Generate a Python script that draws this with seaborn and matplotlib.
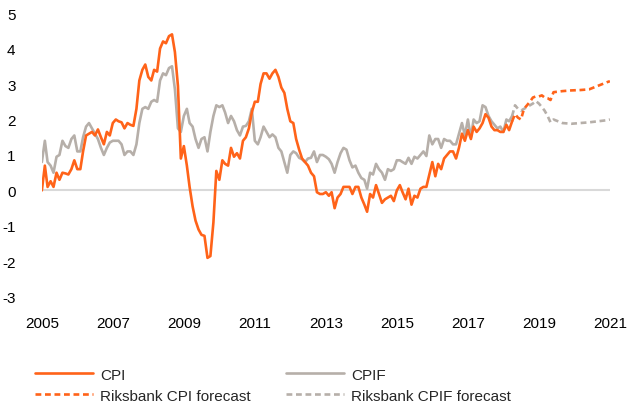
import pandas as pd
import numpy as np
import matplotlib
matplotlib.use("Agg")
import matplotlib.pyplot as plt
import seaborn as sns

# monthly annual % change, Jan 2005 - Apr 2018
cpi = [0.0, 0.7, 0.1, 0.26, 0.1, 0.5, 0.3, 0.5, 0.48, 0.45, 0.6, 0.85,
       0.6, 0.6, 1.1, 1.55, 1.6, 1.65, 1.55, 1.72, 1.5, 1.3, 1.65, 1.55,
       1.9, 2.0, 1.95, 1.92, 1.75, 1.9, 1.85, 1.82, 2.3, 3.1, 3.4, 3.55,
       3.2, 3.1, 3.4, 3.35, 4.0, 4.2, 4.15, 4.35, 4.4, 3.9, 2.95, 0.9,
       1.25, 0.7, 0.1, -0.45, -0.85, -1.1, -1.25, -1.28, -1.9, -1.85, -0.9, 0.55,
       0.3, 0.85, 0.75, 0.7, 1.2, 0.95, 1.05, 0.9, 1.4, 1.5, 1.75, 2.2,
       2.5, 2.5, 3.0, 3.3, 3.3, 3.15, 3.3, 3.4, 3.2, 2.9, 2.75, 2.3,
       1.95, 1.9, 1.45, 1.15, 0.9, 0.8, 0.7, 0.5, 0.4, -0.05, -0.1, -0.1,
       -0.05, -0.15, -0.05, -0.5, -0.2, -0.1, 0.1, 0.1, 0.1, -0.1, 0.1, 0.1,
       -0.2, -0.4, -0.6, -0.1, -0.2, 0.15, -0.1, -0.35, -0.25, -0.2, -0.15, -0.3,
       0.0, 0.15, -0.05, -0.25, 0.05, -0.4, -0.15, -0.2, 0.05, 0.1, 0.1, 0.45,
       0.8, 0.4, 0.75, 0.6, 0.9, 1.0, 1.1, 1.1, 0.9, 1.2, 1.6, 1.4,
       1.7, 1.45, 1.8, 1.65, 1.75, 1.9, 2.15, 2.05, 1.8, 1.7, 1.7, 1.65,
       1.65, 1.85, 1.7, 1.95]

cpif = [0.8, 1.4, 0.8, 0.7, 0.5, 0.95, 1.0, 1.4, 1.25, 1.2, 1.45, 1.55,
        1.1, 1.1, 1.5, 1.8, 1.9, 1.75, 1.6, 1.45, 1.2, 1.0, 1.2, 1.35,
        1.4, 1.4, 1.4, 1.3, 1.0, 1.1, 1.1, 1.0, 1.3, 1.9, 2.3, 2.35,
        2.3, 2.5, 2.55, 2.5, 3.1, 3.3, 3.25, 3.45, 3.5, 2.85, 1.75, 1.65,
        2.1, 2.3, 1.9, 1.8, 1.45, 1.2, 1.45, 1.5, 1.1, 1.65, 2.1, 2.4,
        2.35, 2.4, 2.2, 1.9, 2.1, 1.95, 1.7, 1.55, 1.8, 1.82, 1.95, 2.3,
        1.4, 1.3, 1.5, 1.8, 1.65, 1.5, 1.58, 1.5, 1.2, 1.1, 0.8, 0.5,
        1.0, 1.1, 1.05, 0.92, 0.88, 0.8, 0.9, 0.92, 1.1, 0.8, 1.0, 1.0,
        0.95, 0.88, 0.75, 0.5, 0.8, 1.05, 1.2, 1.15, 0.85, 0.65, 0.7, 0.5,
        0.35, 0.3, 0.05, 0.5, 0.45, 0.75, 0.6, 0.5, 0.3, 0.6, 0.55, 0.6,
        0.85, 0.85, 0.8, 0.75, 0.92, 0.75, 0.95, 0.9, 1.0, 1.1, 0.97, 1.55,
        1.3, 1.45, 1.45, 1.2, 1.45, 1.4, 1.4, 1.3, 1.3, 1.6, 1.9, 1.55,
        2.0, 1.5, 2.0, 1.9, 1.95, 2.4, 2.35, 2.1, 1.95, 1.85, 1.75, 1.8,
        1.65, 2.0, 1.95, 2.1]

# Riksbank forecasts
fc_dates = ["2018-04", "2018-05", "2018-06", "2018-07", "2018-08", "2018-09",
            "2018-10", "2018-11", "2018-12", "2019-01", "2019-02", "2019-03",
            "2019-04", "2019-05", "2019-06", "2019-09", "2019-12", "2020-03",
            "2020-06", "2020-09", "2020-12", "2021-01"]
cpi_fc = [1.95, 2.15, 2.05, 2.0, 2.3, 2.4, 2.5, 2.62, 2.65, 2.65, 2.68, 2.62,
          2.6, 2.55, 2.77, 2.8, 2.82, 2.83, 2.85, 2.95, 3.05, 3.08]
cpif_fc = [2.1, 2.4, 2.3, 2.25, 2.3, 2.35, 2.4, 2.45, 2.52, 2.45, 2.35, 2.25,
           2.1, 1.92, 2.0, 1.9, 1.88, 1.9, 1.92, 1.95, 1.98, 2.0]

orange = "#ff6319"
grey = "#b6afa9"

hist = pd.DataFrame({"date": pd.date_range("2005-01-01", periods=len(cpi), freq="MS"),
                     "CPI": cpi, "CPIF": cpif})
fc = pd.DataFrame({"date": pd.to_datetime(fc_dates), "cpi": cpi_fc, "cpif": cpif_fc})

sns.set_style("white")
plt.rcParams["font.family"] = ["Liberation Sans", "DejaVu Sans"]
plt.rcParams["axes.unicode_minus"] = False

fig = plt.figure(figsize=(6.34, 4.02), dpi=100)
ax = fig.add_axes([0.066, 0.259, 0.896, 0.706])

ax.axhline(0, color="#d9d9d9", lw=1.5, zorder=1)
sns.lineplot(data=hist, x="date", y="CPIF", color=grey, lw=1.9, ax=ax, label="CPIF")
sns.lineplot(data=hist, x="date", y="CPI", color=orange, lw=1.9, ax=ax, label="CPI")
sns.lineplot(data=fc, x="date", y="cpif", color=grey, lw=1.9, ax=ax,
             label="Riksbank CPIF forecast", linestyle=(0, (2.2, 1.4)))
sns.lineplot(data=fc, x="date", y="cpi", color=orange, lw=1.9, ax=ax,
             label="Riksbank CPI forecast", linestyle=(0, (2.2, 1.4)))

ax.set_xlim(pd.Timestamp("2005-01-01"), pd.Timestamp("2021-01-01"))
ax.set_ylim(-3, 5)
ax.set_yticks(range(-3, 6))
years = [2005, 2007, 2009, 2011, 2013, 2015, 2017, 2019, 2021]
ax.set_xticks([pd.Timestamp(f"{y}-01-01") for y in years])
ax.set_xticklabels([str(y) for y in years])
ax.tick_params(axis="both", length=0, labelsize=11, colors="black")
ax.tick_params(axis="y", pad=19)
ax.tick_params(axis="x", pad=14)
ax.set_xlabel("")
ax.set_ylabel("")
sns.despine(ax=ax, left=True, bottom=True)
ax.get_legend().remove()

h, l = ax.get_legend_handles_labels()
order = [l.index(n) for n in ["CPI", "Riksbank CPI forecast", "CPIF", "Riksbank CPIF forecast"]]
fig.legend([h[i] for i in order], [l[i] for i in order], ncol=2, frameon=False,
           loc="upper left", bbox_to_anchor=(0.055, 0.083), fontsize=11,
           handlelength=3.8, handletextpad=0.45, columnspacing=2.35,
           labelspacing=0.45, borderpad=0, borderaxespad=0)

fig.savefig("out.png", dpi=100)
